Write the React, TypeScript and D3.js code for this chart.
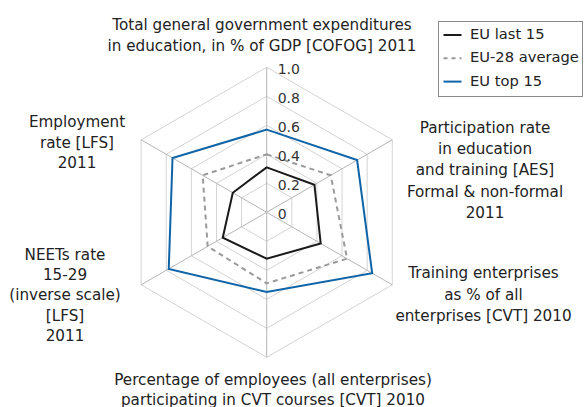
import React from "react";
import * as d3 from "d3";

const categories: string[][] = [
  ["Total general government expenditures", "in education, in % of GDP [COFOG] 2011"],
  ["Participation rate", "in education", "and training [AES]", "Formal & non-formal", "2011"],
  ["Training enterprises", "as % of all", "enterprises [CVT] 2010"],
  ["Percentage of employees (all enterprises)", "participating in CVT courses [CVT] 2010"],
  ["NEETs rate", "15-29", "(inverse scale)", "[LFS]", "2011"],
  ["Employment", "rate [LFS]", "2011"],
];

const euLast15 = [0.31, 0.38, 0.43, 0.32, 0.35, 0.27];
const eu28Average = [0.40, 0.51, 0.64, 0.49, 0.47, 0.51];
const euTop15 = [0.57, 0.72, 0.84, 0.55, 0.78, 0.75];

const tickValues = [0, 0.2, 0.4, 0.6, 0.8, 1.0];
const tickLabels = ["0", "0.2", "0.4", "0.6", "0.8", "1.0"];

const seriesNames = ["EU last 15", "EU-28 average", "EU top 15"];

const FONT = "'DejaVu Sans', sans-serif";

export default function App() {
  const W = 584, H = 407;
  const cx = 266.7, cy = 212.3;
  const r = d3.scaleLinear().domain([0, 1]).range([0, 145]);
  const n = categories.length;
  const angle = d3.scaleLinear().domain([0, n]).range([0, 2 * Math.PI]);
  const pt = (i: number, v: number): [number, number] => {
    const a = angle(i);
    return [cx + r(v) * Math.sin(a), cy - r(v) * Math.cos(a)];
  };
  const polyLine = d3.line<number>()
    .x((v, i) => pt(i, v)[0])
    .y((v, i) => pt(i, v)[1])
    .curve(d3.curveLinearClosed);

  const series = [
    { name: seriesNames[0], data: euLast15, color: "#1a1a1a", dash: "" },
    { name: seriesNames[1], data: eu28Average, color: "#9a9a9a", dash: "5,4" },
    { name: seriesNames[2], data: euTop15, color: "#0f64a8", dash: "" },
  ];

  const labelPos: [number, number, number][] = [
    [262, 25, 21],
    [485, 128.5, 21.2],
    [483.5, 273.5, 21.7],
    [273, 380, 20.5],
    [65, 255, 20.4],
    [77, 122.7, 20.3],
  ];

  return (
    <svg width={W} height={H} style={{ position: "absolute", left: 0, top: 0, background: "#fff" }}
      fontFamily={FONT}>
      {tickValues.filter((t) => t > 0).map((t) => (
        <path key={"g" + t}
          d={polyLine(d3.range(n).map(() => t)) || ""}
          fill="none" stroke="#d4d4d4" strokeWidth={1} />
      ))}
      {d3.range(n).map((i) => {
        const [x, y] = pt(i, 1);
        return <line key={"s" + i} x1={cx} y1={cy} x2={x} y2={y} stroke="#b5b5b5" strokeWidth={1} />;
      })}
      {series.map((s) => (
        <path key={s.name} d={polyLine(s.data) || ""} fill="none" stroke={s.color}
          strokeWidth={2} strokeDasharray={s.dash || undefined} strokeLinejoin="miter" />
      ))}
      {tickValues.map((t, k) => (
        <text key={"t" + t} x={cx + 11} y={cy - r(t) + 3} dominantBaseline="middle"
          fontSize={14} fill="#333">{tickLabels[k]}</text>
      ))}
      {categories.map((lines, i) => (
        <text key={"c" + i} textAnchor="middle" fontSize={15.2} fill="#222">
          {lines.map((l, j) => (
            <tspan key={j} x={labelPos[i][0]} y={labelPos[i][1] + j * labelPos[i][2]}
              dominantBaseline="middle">{l}</tspan>
          ))}
        </text>
      ))}
      <rect x={438.5} y={21.5} width={144} height={75} fill="#fff" stroke="#8a8a8a" strokeWidth={1} />
      {series.map((s, k) => {
        const y = 35 + k * 23.3;
        return (
          <g key={"l" + s.name}>
            <line x1={443.5} x2={461.5} y1={y} y2={y} stroke={s.color} strokeWidth={2}
              strokeDasharray={s.dash ? "4,4" : undefined} />
            <text x={470} y={y} dominantBaseline="middle" fontSize={14.7} fill="#222">{s.name}</text>
          </g>
        );
      })}
    </svg>
  );
}
